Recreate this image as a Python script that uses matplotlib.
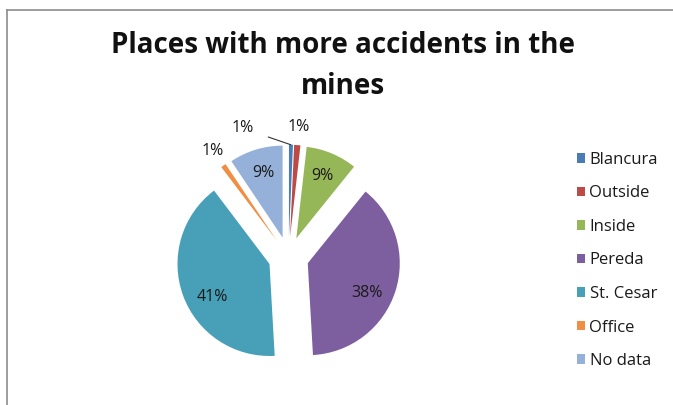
import numpy as np
import matplotlib
matplotlib.use("Agg")
import matplotlib.pyplot as plt
from matplotlib.patches import Patch
from matplotlib.lines import Line2D

plt.rcParams["font.family"] = ["Open Sans", "DejaVu Sans"]

# ── Data ─────────────────────────────────────────────────────────────────
places = ["Blancura", "Outside", "Inside", "Pereda", "St. Cesar", "Office", "No data"]
shares = [0.7, 1.1, 9.0, 38.3, 40.6, 0.9, 9.4]
pct_labels = ["1%", "1%", "9%", "38%", "41%", "1%", "9%"]
colors = ["#4A7DB8", "#BC4B48", "#96B758", "#7D5FA0", "#479FB8", "#F08E45", "#95B1D9"]

EXPLODE = 0.22
W, H = 673, 405
CX, CY, R = 288.5, 257.0, 92.0   # pie centre / radius in pixels

fig = plt.figure(figsize=(W / 100, H / 100), dpi=100)
ax = fig.add_axes([0, 0, 1, 1])

wedges, _ = ax.pie(shares, colors=colors, startangle=90, counterclock=False,
                   explode=[EXPLODE] * len(shares), radius=1.0,
                   wedgeprops=dict(linewidth=0))

ax.set_xlim(-CX / R, (W - CX) / R)
ax.set_ylim((CY - H) / R, CY / R)
ax.set_aspect("equal", adjustable="box")
ax.axis("off")

# ── Data labels ──────────────────────────────────────────────────────────
# big slices: Excel nudges the label a little below the mid-angle
LBL = dict(fontsize=11.5, color="#1A1A1A", ha="center", va="center")
for i, (w, lab, v) in enumerate(zip(wedges, pct_labels, shares)):
    mid_deg = (w.theta1 + w.theta2) / 2
    mid = np.deg2rad(mid_deg)
    d = np.array([np.cos(mid), np.sin(mid)])
    apex = EXPLODE * d
    if v >= 30:
        tweak = -9 if np.cos(mid) > 0 else 10
        m2 = np.deg2rad(mid_deg + tweak)
        pos = apex + 0.72 * np.array([np.cos(m2), np.sin(m2)])
        ax.text(*pos, lab, **LBL)
    elif v >= 5:
        pos = apex + 0.73 * d
        ax.text(*pos, lab, **LBL)
    elif places[i] == "Blancura":
        tip = apex + 1.0 * d
        ax.annotate(lab, xy=tip, xytext=(-0.50, 1.40), **LBL,
                    arrowprops=dict(arrowstyle="-", color="#333333", lw=0.8,
                                    shrinkA=9, shrinkB=0))
    else:
        pos = apex + 1.2 * d
        ax.text(*pos, lab, **LBL)

# ── Title ────────────────────────────────────────────────────────────────
fig.text(343 / W, 1 - 66 / H, "Places with more accidents in the\nmines",
         ha="center", va="center", fontsize=20, fontweight="bold",
         linespacing=1.55, color="#111111")

# ── Legend ───────────────────────────────────────────────────────────────
handles = [Patch(facecolor=c, edgecolor="none") for c in colors]
fig.legend(handles, places, loc="center left",
           bbox_to_anchor=(577 / W, 1 - 260.5 / H), frameon=False,
           fontsize=12, handlelength=0.45, handleheight=0.5,
           handletextpad=0.3, labelspacing=1.05, borderpad=0,
           borderaxespad=0, labelcolor="#1A1A1A")

# ── Chart-area border (top + left edge visible) ─────────────────────────
fig.add_artist(Line2D([6.5 / W, 1], [1 - 9.5 / H, 1 - 9.5 / H],
                      transform=fig.transFigure, color="#8C8C8C", lw=1.2))
fig.add_artist(Line2D([6.5 / W, 6.5 / W], [0, 1 - 9.5 / H],
                      transform=fig.transFigure, color="#8C8C8C", lw=1.2))

fig.savefig("out.png", dpi=100, facecolor="white")
